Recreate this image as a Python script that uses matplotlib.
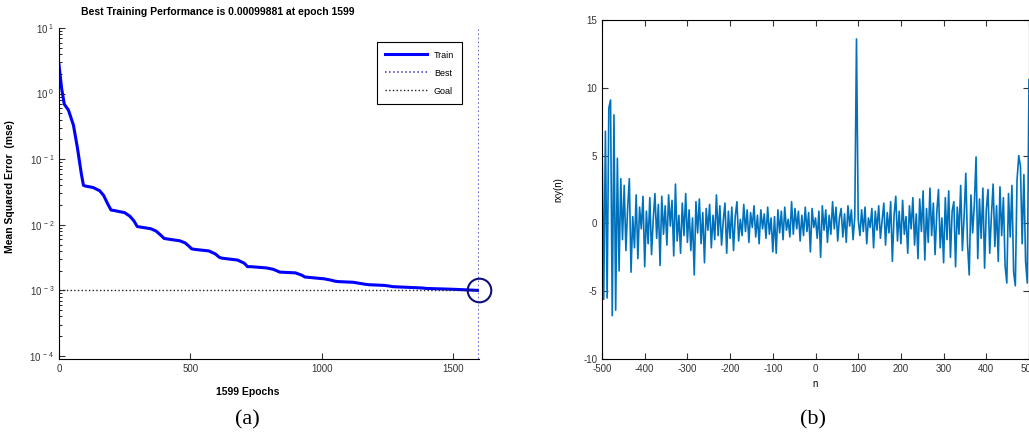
import numpy as np
import matplotlib.pyplot as plt

plt.rcParams['font.family'] = 'Liberation Sans'
plt.rcParams['mathtext.fontset'] = 'custom'
plt.rcParams['mathtext.rm'] = 'Liberation Sans'
plt.rcParams['mathtext.it'] = 'Liberation Sans'
plt.rcParams['axes.unicode_minus'] = False

# (a) training performance
epochs = [0, 10, 20, 36, 55, 70, 85, 93, 100, 130, 155, 170, 185, 198, 210, 250, 270, 285,
          298, 305, 350, 370, 390, 400, 410, 460, 480, 495, 505, 520, 570, 595, 610, 620,
          680, 705, 718, 730, 790, 815, 828, 840, 900, 925, 936, 950, 1010, 1040, 1051,
          1065, 1120, 1150, 1165, 1180, 1240, 1260, 1270, 1290, 1380, 1400, 1500, 1599]
mse = [2.76, 1.2, 0.69, 0.56, 0.33, 0.15, 0.06, 0.040, 0.039, 0.037, 0.033, 0.028, 0.021,
       0.0168, 0.0165, 0.0153, 0.0135, 0.0115, 0.0094, 0.0093, 0.0087, 0.0080, 0.0068,
       0.0062, 0.0061, 0.0057, 0.0053, 0.0047, 0.0043, 0.0042, 0.0040, 0.0036, 0.0032,
       0.0031, 0.0029, 0.0026, 0.0023, 0.0023, 0.0022, 0.0021, 0.0020, 0.0019, 0.00185,
       0.0017, 0.0016, 0.00158, 0.0015, 0.00142, 0.00138, 0.00136, 0.00133, 0.00127,
       0.00124, 0.00122, 0.00119, 0.00116, 0.00114, 0.00113, 0.00109, 0.00107, 0.00104,
       0.00099881]
best_epoch = 1599
best_perf = 0.00099881
goal = 1e-3

# (b) cross-correlation rxy(n), n = -500..500 step 4
rxy = [6.7, -5.6, 6.8, -5.5, 8.5, 9.1, -6.8, 8.0, -6.4, 4.8, -3.5, 3.3, -1.2, 2.8, -2.0, 1.1,
       3.3, -3.6, 0.5, -1.8, 2.1, -2.6, 1.2, -0.4, 2.0, -3.2, 0.9, -1.5, 1.9, -2.3, 0.3, 2.2,
       -1.1, 1.4, -3.1, 2.0, -0.8, 1.3, -1.6, 2.1, -0.2, 1.7, -2.4, 2.9, -1.3, 0.6, -2.2, 1.5,
       -0.9, 2.2, -1.4,
       1.0, -2.0, 0.4, -3.8, 1.6, -0.7, 1.8, -1.5, 0.8, -2.9, 1.1, -0.5, 1.4, -1.8, 0.6, -1.2,
       2.1, -0.9, 1.3, -1.6, 0.2, 1.5, -2.2, 0.9, -1.1,
       1.2, -2.0, 0.5, 1.6, -1.3, 0.3, -0.9, 1.4, -0.6, 1.0, -1.4, 0.8, -0.3, 1.3, -1.0, 0.6,
       -1.5, 1.0, -0.4, 0.7, -1.1, 1.2, -0.8, 0.4, -2.1,
       0.5, -2.2, 1.0, -0.7, 0.9, -1.2, 1.2, -0.5, 0.3, -1.0, 1.6, -0.8, 1.1, -0.4, 0.9, -1.3,
       0.6, -0.9, 1.2, -0.6, 0.8, -2.1, 1.1, -0.3, 0.4,
       -1.1, 0.9, -2.5, 1.3, -0.5, 1.0, -1.4, 0.6, -0.8, 1.6, -0.4, 1.2, -1.3, 0.4, 1.1, -1.0,
       0.7, -1.4, 1.3, -0.2, 1.0, -1.2, 0.5, 13.6,
       0.3, -0.9, 1.0, -0.6, 1.2, -1.5, 0.4, -0.3, 1.1, -1.8, 0.9, -0.5, 1.3, -1.1, 0.2, 1.5,
       -1.6, 0.8, -0.7, 1.6, -2.8, 0.6, 2.0, -1.3, 0.9, -1.5,
       1.7, -0.8, 0.5, -2.2, 1.3, -0.4, 1.9, -1.6, 0.7, -2.6, 1.8, -0.6, 2.4, -2.7, 1.1, -1.4,
       2.6, -0.9, 1.5, -2.3, 0.8, 2.5, -1.8, 0.4, -2.9,
       1.9, -1.2, 2.4, -2.5, 0.9, 1.6, -3.2, 1.2, -0.8, 2.8, -2.0, 0.5, 3.7, -1.5, -3.8, 2.1,
       -0.7, 1.4, 4.9, -2.6, 1.8, -1.1, 2.6, -3.3, 1.0,
       2.5, -2.2, 0.6, 2.9, -1.7, 1.3, -2.8, 2.7, -0.9, 1.9, -3.1, -4.4, 2.2, -1.0, 2.8, -3.6,
       -4.6, 3.2, 5.0, 4.2, -1.5, 3.6, -2.8, -4.4, 10.6]
n = np.arange(-500, 501, 4)

fig = plt.figure(figsize=(10.29, 4.43), dpi=100)

ax1 = fig.add_axes([59/1029, 1-359/443, 420/1029, 331/443])
ax1.semilogy(epochs, mse, color='b', lw=2.2, label='Train')
ax1.plot([best_epoch, best_epoch], [10**-4.046, 10], ls=':', color='#3535c8', lw=1.1, label='Best')
ax1.plot([0, best_epoch], [goal, goal], ls=':', color='#222222', lw=1.0, label='Goal')
ax1.plot([best_epoch], [best_perf], 'o', ms=17, mfc='none', mec='#10107a', mew=1.5, clip_on=False)
ax1.set_xlim(0, 1599)
ax1.set_ylim(10**-4.046, 10)
ax1.spines['top'].set_visible(False)
ax1.spines['right'].set_visible(False)
ax1.set_xticks([0, 500, 1000, 1500])
ax1.set_yticks([1e-4, 1e-3, 1e-2, 1e-1, 1, 10])
ax1.set_yticklabels([r'10$^{\ -4}$', r'10$^{\ -3}$', r'10$^{\ -2}$', r'10$^{\ -1}$',
                     r'10$^{\ 0}$', r'10$^{\ 1}$'])
ax1.tick_params(direction='in', labelsize=7, colors='#333333', length=4)
ax1.tick_params(which='minor', direction='in', length=2)
ax1.set_xlabel('1599 Epochs', fontsize=7.5, fontweight='bold')
ax1.xaxis.set_label_coords(0.45, -0.085)
ax1.set_ylabel('Mean Squared Error  (mse)', fontsize=7.5, fontweight='bold')
ax1.yaxis.set_label_coords(-0.105, 0.52)
fig.text(218/1029, 1-12/443, 'Best Training Performance is 0.00099881 at epoch 1599',
         ha='center', va='center', fontsize=7.5, fontweight='bold')
lg = ax1.legend(loc='upper right', bbox_to_anchor=(0.971, 0.970), fontsize=6.5,
                handlelength=4.6, fancybox=False, framealpha=1, edgecolor='k',
                borderpad=0.9, labelspacing=1.0)
lg.get_frame().set_linewidth(0.8)

ax2 = fig.add_axes([602/1029, 1-359/443, 427/1029, 339/443])
ax2.plot(n, rxy, color='#0072BD', lw=1.2)
ax2.set_xlim(-500, 500)
ax2.set_ylim(-10, 15)
ax2.set_xticks(range(-500, 501, 100))
ax2.set_yticks([-10, -5, 0, 5, 10, 15])
ax2.tick_params(direction='in', labelsize=7, colors='#333333', top=True, right=True, length=4)
ax2.set_xlabel('n', fontsize=7)
ax2.set_ylabel('rxy(n)', fontsize=7)
ax2.yaxis.set_label_coords(-0.09, 0.5)

fig.text(247/1029, 1-420/443, '(a)', ha='center', va='center', fontsize=16, family='Liberation Serif')
fig.text(813/1029, 1-420/443, '(b)', ha='center', va='center', fontsize=16, family='Liberation Serif')

fig.savefig('out.png', dpi=100)
